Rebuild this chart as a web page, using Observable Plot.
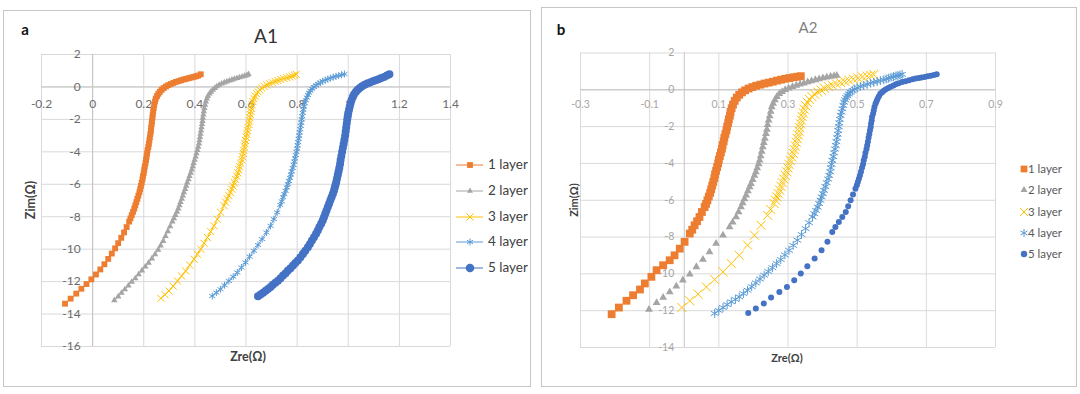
<!DOCTYPE html>
<html><head><meta charset="utf-8">
<script src="https://cdn.jsdelivr.net/npm/d3@7"></script>
<script src="https://cdn.jsdelivr.net/npm/@observablehq/plot@0.6"></script>
<style>
body{margin:0;background:#fff;font-family:Lato,"Open Sans",sans-serif;}
#root{position:relative;width:1080px;height:394px;overflow:hidden;background:#fff;}
.box{position:absolute;border:1px solid #c6c6c6;box-sizing:border-box;}
.abs{position:absolute;white-space:nowrap;line-height:1;}
.plot{position:absolute;left:0;top:0;}
</style></head><body><div id="root"></div>
<script>
// ---------- shared ----------
const legendLabels = ["1 layer","2 layer","3 layer","4 layer","5 layer"];
const colors = ["#ED7D31","#A5A5A5","#FFC000","#5B9BD5","#4472C4"];

// ---------- panel a (A1) ----------
const aXTicks = [-0.2,0,0.2,0.4,0.6,0.8,1,1.2,1.4];
const aXTickLabels = ["-0.2","0","0.2","0.4","0.6","0.8","1","1.2","1.4"];
const aYTicks = [2,0,-2,-4,-6,-8,-10,-12,-14,-16];
const aYTickLabels = ["2","0","-2","-4","-6","-8","-10","-12","-14","-16"];

const aL1x = [-0.108,-0.086,-0.064,-0.044,-0.024,-0.005,0.013,0.03,0.046,0.061,0.075,0.088,0.1,0.112,0.123,0.133,0.143,
  0.148,0.153,0.158,0.163,0.167,0.171,0.175,0.179,0.183,0.186,0.189,0.192,0.195,0.197,0.2,0.202,0.204,0.207,0.209,0.211,0.213,0.215,0.218,0.22,0.222,0.224,0.226,0.228,0.229,0.231,0.232,0.234,0.235,0.237,0.239,0.241,0.244,0.247,0.252,0.257,0.263,0.27,0.278,0.287,0.296,0.306,0.316,0.326,0.336,0.346,0.356,0.366,0.376,0.386,0.396,0.405,0.413,0.423];
const aL1y = [-13.36,-13.05,-12.74,-12.44,-12.15,-11.86,-11.56,-11.25,-10.93,-10.6,-10.27,-9.95,-9.63,-9.3,-8.97,-8.64,-8.3,
  -8.1,-7.9,-7.7,-7.5,-7.3,-7.1,-6.9,-6.7,-6.5,-6.3,-6.1,-5.9,-5.7,-5.5,-5.3,-5.1,-4.9,-4.7,-4.5,-4.3,-4.1,-3.9,-3.7,-3.5,-3.3,-3.1,-2.9,-2.7,-2.5,-2.3,-2.1,-1.9,-1.7,-1.5,-1.3,-1.1,-0.9,-0.72,-0.56,-0.42,-0.3,-0.18,-0.07,0.03,0.11,0.18,0.25,0.31,0.36,0.41,0.46,0.5,0.54,0.58,0.62,0.66,0.7,0.78];

const aL2x = [0.085,0.1,0.113,0.126,0.14,0.153,0.167,0.18,0.193,0.206,0.219,0.232,0.244,0.256,0.266,0.276,0.285,0.294,0.303,0.312,
  0.318,0.324,0.33,0.335,0.34,0.344,0.349,0.353,0.357,0.362,0.366,0.37,0.375,0.379,0.384,0.388,0.392,0.395,0.399,0.403,0.406,0.41,0.413,0.416,0.418,0.42,0.422,0.424,0.426,0.428,0.43,0.431,0.433,0.435,0.437,0.44,0.443,0.447,0.451,0.457,0.463,0.47,0.478,0.486,0.495,0.505,0.515,0.525,0.535,0.545,0.555,0.565,0.575,0.585,0.595,0.603,0.61];
const aL2y = [-13.15,-12.92,-12.7,-12.48,-12.25,-12.02,-11.8,-11.56,-11.32,-11.08,-10.84,-10.58,-10.32,-10.05,-9.78,-9.5,-9.2,-8.9,-8.6,-8.3,
  -8.1,-7.9,-7.7,-7.5,-7.3,-7.1,-6.9,-6.7,-6.5,-6.3,-6.1,-5.9,-5.7,-5.5,-5.3,-5.1,-4.9,-4.7,-4.5,-4.3,-4.1,-3.9,-3.7,-3.5,-3.3,-3.1,-2.9,-2.7,-2.5,-2.3,-2.1,-1.9,-1.7,-1.5,-1.3,-1.1,-0.9,-0.72,-0.56,-0.42,-0.3,-0.18,-0.07,0.03,0.12,0.2,0.27,0.33,0.39,0.44,0.49,0.54,0.59,0.63,0.68,0.72,0.78];

const aL3x = [0.267,0.283,0.299,0.315,0.332,0.348,0.364,0.38,0.397,0.41,0.423,0.436,0.449,0.462,0.475,0.488,0.501,0.514,
  0.52,0.527,0.533,0.539,0.544,0.549,0.554,0.559,0.564,0.568,0.572,0.575,0.579,0.583,0.586,0.589,0.591,0.594,0.596,0.598,0.601,0.603,0.606,0.608,0.611,0.613,0.615,0.617,0.619,0.621,0.624,0.627,0.631,0.636,0.641,0.647,0.654,0.662,0.671,0.681,0.692,0.703,0.714,0.725,0.736,0.748,0.76,0.771,0.781,0.79,0.797];
const aL3y = [-13.03,-12.8,-12.58,-12.28,-11.96,-11.65,-11.34,-10.98,-10.62,-10.31,-10.0,-9.64,-9.28,-8.92,-8.56,-8.15,-7.73,-7.32,
  -7.1,-6.9,-6.7,-6.5,-6.3,-6.1,-5.9,-5.7,-5.5,-5.3,-5.1,-4.9,-4.7,-4.5,-4.3,-4.1,-3.9,-3.7,-3.5,-3.3,-3.1,-2.9,-2.7,-2.5,-2.3,-2.1,-1.9,-1.7,-1.5,-1.3,-1.1,-0.9,-0.72,-0.56,-0.42,-0.3,-0.18,-0.07,0.03,0.12,0.2,0.27,0.34,0.4,0.46,0.52,0.57,0.62,0.67,0.72,0.78];

const aL4x = [0.468,0.484,0.5,0.516,0.533,0.55,0.566,0.582,0.598,0.614,0.631,0.647,0.663,0.68,0.696,0.709,0.722,0.734,
  0.74,0.745,0.75,0.755,0.76,0.764,0.768,0.772,0.776,0.779,0.783,0.786,0.789,0.792,0.795,0.797,0.8,0.802,0.804,0.806,0.808,0.81,0.812,0.814,0.816,0.818,0.82,0.822,0.824,0.827,0.83,0.834,0.838,0.842,0.847,0.852,0.859,0.866,0.874,0.882,0.891,0.9,0.91,0.92,0.93,0.941,0.952,0.963,0.974,0.985];
const aL4y = [-12.89,-12.68,-12.47,-12.22,-11.96,-11.7,-11.44,-11.13,-10.82,-10.46,-10.1,-9.74,-9.38,-8.97,-8.56,-8.15,-7.73,-7.27,
  -7.05,-6.8,-6.6,-6.4,-6.2,-6.0,-5.8,-5.6,-5.4,-5.2,-5.0,-4.8,-4.6,-4.4,-4.2,-4.0,-3.8,-3.6,-3.4,-3.2,-3.0,-2.8,-2.6,-2.4,-2.2,-2.0,-1.8,-1.6,-1.4,-1.2,-1.0,-0.82,-0.65,-0.5,-0.36,-0.23,-0.11,0.0,0.1,0.19,0.27,0.35,0.42,0.48,0.54,0.6,0.65,0.7,0.75,0.8];

const aL5x = [0.647,0.657,0.667,0.677,0.686,0.696,0.705,0.715,0.725,0.735,0.745,0.755,0.764,0.774,0.784,0.793,0.803,0.813,0.823,0.832,0.842,0.85,0.858,0.866,0.874,0.881,0.887,0.894,0.9,0.905,0.91,0.915,0.92,0.925,0.93,0.935,0.94,0.944,0.947,0.95,0.953,0.956,0.959,0.962,0.965,0.968,0.97,0.973,0.976,0.979,0.982,0.985,0.988,0.99,0.992,0.994,0.996,0.998,1.0,1.003,1.006,1.009,1.013,1.018,1.023,1.03,1.037,1.045,1.054,1.064,1.074,1.085,1.096,1.107,1.118,1.129,1.14,1.151,1.161];
const aL5y = [-12.9,-12.8,-12.68,-12.57,-12.45,-12.33,-12.2,-12.07,-11.94,-11.79,-11.63,-11.48,-11.32,-11.17,-11.01,-10.86,-10.7,-10.5,-10.29,-10.09,-9.88,-9.68,-9.47,-9.26,-9.05,-8.85,-8.64,-8.44,-8.23,-8.03,-7.82,-7.61,-7.4,-7.2,-6.99,-6.79,-6.58,-6.4,-6.22,-6.04,-5.86,-5.65,-5.43,-5.22,-5.0,-4.75,-4.5,-4.25,-4.0,-3.75,-3.5,-3.25,-3.0,-2.75,-2.5,-2.25,-2.0,-1.8,-1.6,-1.4,-1.2,-1.0,-0.8,-0.61,-0.45,-0.3,-0.18,-0.07,0.04,0.13,0.21,0.28,0.35,0.41,0.48,0.55,0.62,0.7,0.78];

// ---------- panel b (A2) ----------
const bXTicks = [-0.3,-0.1,0.1,0.3,0.5,0.7,0.9];
const bXTickLabels = ["-0.3","-0.1","0.1","0.3","0.5","0.7","0.9"];
const bYTicks = [2,0,-2,-4,-6,-8,-10,-12,-14];
const bYTickLabels = ["2","0","-2","-4","-6","-8","-10","-12","-14"];

const bL1x = [-0.21,-0.189,-0.167,-0.148,-0.128,-0.114,-0.095,-0.08,-0.061,-0.042,-0.028,-0.013,0.001,
  0.016,0.023,0.03,0.037,0.044,0.051,0.059,0.063,0.067,0.071,0.075,0.078,0.081,0.084,0.087,0.089,0.092,0.095,0.098,0.1,0.103,0.106,0.109,0.111,0.114,0.116,0.119,0.122,0.124,0.127,0.129,0.132,0.134,0.137,0.141,0.146,0.152,0.159,0.167,0.176,0.186,0.197,0.208,0.22,0.232,0.244,0.256,0.268,0.28,0.292,0.304,0.316,0.327,0.337];
const bL1y = [-12.19,-11.83,-11.46,-11.16,-10.85,-10.52,-10.16,-9.8,-9.53,-9.26,-8.99,-8.63,-8.26,
  -7.81,-7.6,-7.36,-7.14,-6.91,-6.64,-6.37,-6.2,-6.0,-5.8,-5.6,-5.4,-5.2,-5.0,-4.8,-4.6,-4.4,-4.2,-4.0,-3.8,-3.6,-3.4,-3.2,-3.0,-2.8,-2.6,-2.4,-2.2,-2.0,-1.8,-1.6,-1.4,-1.2,-1.0,-0.8,-0.6,-0.42,-0.27,-0.14,-0.03,0.07,0.15,0.22,0.28,0.34,0.39,0.44,0.5,0.55,0.6,0.64,0.68,0.71,0.74];

const bL2x = [-0.102,-0.08,-0.061,-0.042,-0.023,-0.004,0.016,0.035,0.054,0.073,0.092,0.112,
  0.131,0.14,0.15,0.157,0.164,0.169,0.174,0.179,0.184,0.189,0.193,0.198,0.203,0.207,0.211,0.215,0.218,0.221,0.224,0.227,0.23,0.233,0.236,0.239,0.241,0.244,0.247,0.25,0.253,0.257,0.262,0.268,0.275,0.283,0.292,0.302,0.313,0.324,0.335,0.346,0.357,0.368,0.379,0.39,0.401,0.412,0.423,0.433,0.441];
const bL2y = [-11.93,-11.57,-11.28,-10.98,-10.67,-10.34,-10.02,-9.62,-9.22,-8.81,-8.35,-7.9,
  -7.45,-7.2,-6.91,-6.64,-6.37,-6.15,-5.93,-5.73,-5.5,-5.28,-5.1,-4.88,-4.66,-4.47,-4.25,-4.03,-3.83,-3.6,-3.35,-3.11,-2.88,-2.64,-2.39,-2.15,-1.9,-1.66,-1.42,-1.18,-0.94,-0.74,-0.55,-0.37,-0.22,-0.1,0.0,0.08,0.16,0.24,0.3,0.36,0.42,0.48,0.54,0.59,0.64,0.68,0.72,0.75,0.78];

const bL3x = [-0.007,0.016,0.04,0.064,0.088,0.112,0.136,0.159,0.183,0.203,0.222,
  0.241,0.25,0.26,0.264,0.268,0.272,0.276,0.28,0.284,0.288,0.292,0.296,0.3,0.303,0.307,0.311,0.315,0.318,0.321,0.324,0.327,0.33,0.332,0.334,0.336,0.339,0.341,0.344,0.347,0.351,0.356,0.362,0.369,0.377,0.386,0.396,0.406,0.417,0.428,0.44,0.452,0.464,0.476,0.489,0.502,0.515,0.528,0.539,0.548];
const bL3y = [-11.83,-11.46,-11.1,-10.71,-10.31,-9.89,-9.44,-8.99,-8.44,-7.9,-7.36,
  -6.82,-6.5,-6.18,-6.0,-5.82,-5.64,-5.45,-5.25,-5.05,-4.85,-4.65,-4.45,-4.25,-4.05,-3.85,-3.65,-3.45,-3.25,-3.05,-2.85,-2.65,-2.45,-2.25,-2.05,-1.85,-1.65,-1.45,-1.25,-1.05,-0.86,-0.68,-0.52,-0.37,-0.24,-0.12,-0.02,0.08,0.17,0.25,0.32,0.39,0.46,0.52,0.58,0.64,0.7,0.75,0.79,0.83];

const bL4x = [0.088,0.1,0.112,0.124,0.136,0.148,0.159,0.171,0.183,0.195,0.207,0.219,0.231,0.243,0.255,0.267,0.279,0.291,0.303,0.315,0.327,0.339,0.351,0.361,0.371,0.376,0.381,0.386,0.39,0.394,0.397,0.401,0.404,0.408,0.412,0.416,0.419,0.422,0.424,0.426,0.428,0.431,0.433,0.436,0.438,0.44,0.442,0.444,0.445,0.447,0.448,0.45,0.452,0.455,0.457,0.46,0.462,0.465,0.468,0.472,0.476,0.481,0.487,0.493,0.5,0.509,0.519,0.529,0.539,0.548,0.558,0.567,0.577,0.584,0.591,0.598,0.605,0.612,0.618,0.624,0.63];
const bL4y = [-12.15,-11.99,-11.83,-11.67,-11.52,-11.39,-11.25,-11.07,-10.89,-10.69,-10.49,-10.28,-10.07,-9.87,-9.66,-9.44,-9.22,-8.97,-8.72,-8.45,-8.17,-7.86,-7.54,-7.22,-6.91,-6.73,-6.55,-6.37,-6.18,-6.0,-5.82,-5.64,-5.46,-5.26,-5.05,-4.85,-4.65,-4.45,-4.24,-4.04,-3.83,-3.63,-3.42,-3.22,-3.02,-2.82,-2.61,-2.41,-2.21,-2.0,-1.8,-1.6,-1.39,-1.21,-1.03,-0.85,-0.67,-0.54,-0.42,-0.32,-0.22,-0.13,-0.04,0.04,0.11,0.18,0.24,0.3,0.36,0.41,0.45,0.5,0.54,0.59,0.63,0.68,0.72,0.75,0.78,0.81,0.84];

const bL5x = [0.185,0.207,0.23,0.251,0.275,0.297,0.318,0.337,0.356,0.377,0.397,0.414,0.428,
  0.437,0.447,0.457,0.467,0.474,0.481,0.488,0.495,0.499,0.502,0.505,0.508,0.511,0.514,0.517,0.519,0.522,0.524,0.527,0.529,0.531,0.533,0.535,0.537,0.539,0.54,0.542,0.543,0.546,0.548,0.55,0.553,0.556,0.559,0.563,0.567,0.572,0.577,0.583,0.59,0.597,0.605,0.612,0.62,0.63,0.64,0.65,0.66,0.669,0.678,0.686,0.695,0.704,0.713,0.722,0.73];
const bL5y = [-12.12,-11.88,-11.61,-11.28,-10.98,-10.71,-10.34,-9.98,-9.58,-9.17,-8.72,-8.26,-7.72,
  -7.45,-7.18,-6.91,-6.64,-6.32,-6.0,-5.69,-5.37,-5.19,-5.01,-4.83,-4.65,-4.45,-4.24,-4.04,-3.83,-3.63,-3.42,-3.22,-3.02,-2.82,-2.61,-2.41,-2.21,-2.03,-1.85,-1.67,-1.48,-1.3,-1.12,-0.94,-0.76,-0.62,-0.48,-0.35,-0.22,-0.13,-0.05,0.03,0.1,0.17,0.24,0.3,0.36,0.42,0.47,0.52,0.57,0.61,0.64,0.67,0.7,0.74,0.77,0.81,0.84];

// ---------- rendering ----------
const root = document.getElementById("root");
const FONT = "Lato, 'Open Sans', sans-serif";

function addBox(l,t,w,h){const d=document.createElement("div");d.className="box";Object.assign(d.style,{left:l+"px",top:t+"px",width:w+"px",height:h+"px"});root.appendChild(d);}
function addText(txt,cx,cy,style,rot){
  const d=document.createElement("div");d.className="abs";d.textContent=txt;
  Object.assign(d.style,{left:cx+"px",top:cy+"px",fontFamily:FONT,transform:"translate(-50%,-50%)"+(rot?" rotate("+rot+"deg)":"")},style);
  root.appendChild(d);return d;
}
const symMap = {square:d3.symbolSquare,triangle:d3.symbolTriangle,times:d3.symbolTimes||d3.symbolCross,asterisk:d3.symbolAsterisk||d3.symbolCross,circle:d3.symbolCircle};
const filledSym = {square:true,triangle:true,circle:true,times:false,asterisk:false};

function panel(cfg){
  const xt = cfg.xTicks.map((v,i)=>({v,label:cfg.xLabels[i]}));
  const yt = cfg.yTicks.map((v,i)=>({v,label:cfg.yLabels[i]}));
  const marks = [
    Plot.ruleX(cfg.xGrid,{stroke:"#d9d9d9",strokeWidth:1}),
    Plot.ruleY(cfg.yTicks,{stroke:"#d9d9d9",strokeWidth:1}),
    Plot.ruleX([0],{stroke:"#c4c4c4",strokeWidth:1}),
    Plot.ruleY([0],{stroke:"#c4c4c4",strokeWidth:1}),
    Plot.text(xt,{x:"v",y:()=>0,text:"label",dy:cfg.xdy,fill:cfg.tickColor,fontSize:cfg.tickSize}),
    Plot.text(yt,{x:()=>0,y:"v",text:"label",dx:cfg.ydx,textAnchor:"end",fill:cfg.tickColor,fontSize:cfg.tickSize})
  ];
  cfg.series.forEach(s=>{
    const n = Math.min(s.x.length,s.y.length);
    const data = s.x.slice(0,n).map((x,i)=>({x,y:s.y[i]}));
    if(cfg.lines) marks.push(Plot.line(data,{x:"x",y:"y",stroke:s.color,strokeWidth:1}));
    const f = filledSym[s.symbol];
    marks.push(Plot.dot(data,{x:"x",y:"y",symbol:s.symbol,r:s.r,
      fill:f?s.color:"none",stroke:f?"none":s.color,strokeWidth:f?0:1}));
  });
  const svg = Plot.plot({
    width:cfg.w,height:cfg.h,marginLeft:cfg.ml,marginRight:cfg.mr,marginTop:cfg.mt,marginBottom:cfg.mb,
    x:{domain:cfg.xDomain,axis:null},y:{domain:cfg.yDomain,axis:null},
    style:{fontFamily:FONT,background:"transparent",overflow:"visible"},
    marks
  });
  svg.classList.add("plot");
  svg.style.left=cfg.left+"px";svg.style.top="0px";
  root.appendChild(svg);
}

function legend(cfg){
  cfg.series.forEach((s,i)=>{
    const cy = cfg.y0 + i*cfg.dy;
    const svg = d3.create("svg").attr("width",cfg.sw).attr("height",20)
      .style("position","absolute").style("left",cfg.sx+"px").style("top",(cy-10)+"px");
    if(cfg.line) svg.append("line").attr("x1",0).attr("x2",cfg.sw).attr("y1",10).attr("y2",10).attr("stroke",s.color).attr("stroke-width",1);
    const f = filledSym[s.symbol];
    svg.append("path").attr("d",d3.symbol(symMap[s.symbol],Math.PI*s.lr*s.lr)())
      .attr("transform",`translate(${cfg.mx},10)`)
      .attr("fill",f?s.color:"none").attr("stroke",f?"none":s.color).attr("stroke-width",1);
    root.appendChild(svg.node());
    const t=document.createElement("div");t.className="abs";t.textContent=legendLabels[i];
    Object.assign(t.style,{left:cfg.tx+"px",top:cy+"px",transform:"translateY(-50%)",fontFamily:FONT,fontSize:cfg.fs+"px",color:cfg.color});
    root.appendChild(t);
  });
}

// boxes
addBox(3,10,528,377);
addBox(541,7,536,380);

const symsA = ["square","triangle","times","asterisk","circle"];
const seriesA = [
  {x:aL1x,y:aL1y,r:3.3,lr:3.3},{x:aL2x,y:aL2y,r:2.4,lr:2.2},{x:aL3x,y:aL3y,r:3.3,lr:3.3},
  {x:aL4x,y:aL4y,r:3.3,lr:3.3},{x:aL5x,y:aL5y,r:4,lr:4.3}
].map((s,i)=>Object.assign(s,{color:colors[i],symbol:symsA[i]}));
const seriesB = [
  {x:bL1x,y:bL1y,r:4.4,lr:3.8},{x:bL2x,y:bL2y,r:2.9,lr:2.6},{x:bL3x,y:bL3y,r:4.2,lr:3.8},
  {x:bL4x,y:bL4y,r:4.2,lr:3.8},{x:bL5x,y:bL5y,r:3,lr:3.2}
].map((s,i)=>Object.assign(s,{color:colors[i],symbol:symsA[i]}));

panel({left:0,w:540,h:394,ml:41,mr:90,mt:54,mb:48,xDomain:[-0.2,1.4],yDomain:[-16,2],
  xGrid:aXTicks,xTicks:aXTicks,xLabels:aXTickLabels,yTicks:aYTicks,yLabels:aYTickLabels,
  xdy:17,ydx:-12,tickColor:"#6b6b6b",tickSize:12,lines:true,series:seriesA});
panel({left:540,w:540,h:394,ml:40,mr:85,mt:52.5,mb:47,xDomain:[-0.3,0.9],yDomain:[-14,2],
  xGrid:bXTicks,xTicks:bXTicks,xLabels:bXTickLabels,yTicks:bYTicks,yLabels:bYTickLabels,
  xdy:15,ydx:-10,tickColor:"#a6a6a6",tickSize:10.5,lines:false,series:seriesB});

legend({series:seriesA,y0:165,dy:25.8,sx:456,sw:27,mx:14,line:true,tx:488,fs:13.5,color:"#404040"});
legend({series:seriesB,y0:169,dy:21.3,sx:1014,sw:20,mx:10,line:false,tx:1028,fs:11.5,color:"#595959"});

// titles and labels
addText("a",25,29,{fontWeight:"bold",fontSize:"15px",color:"#111"});
addText("A1",266,35,{fontSize:"19px",color:"#333"});
addText("Zim(\u03A9)",31,200,{fontWeight:"bold",fontSize:"12.5px",color:"#404040"},-90);
addText("Zre(\u03A9)",248,357,{fontWeight:"bold",fontSize:"12.5px",color:"#404040"});

addText("b",561,29,{fontWeight:"bold",fontSize:"15px",color:"#111"});
addText("A2",808,27,{fontSize:"15px",color:"#7f7f7f"});
addText("Zim(\u03A9)",573,200,{fontWeight:"bold",fontSize:"11px",color:"#404040"},-90);
addText("Zre(\u03A9)",787,357,{fontWeight:"bold",fontSize:"11px",color:"#404040"});
</script></body></html>
